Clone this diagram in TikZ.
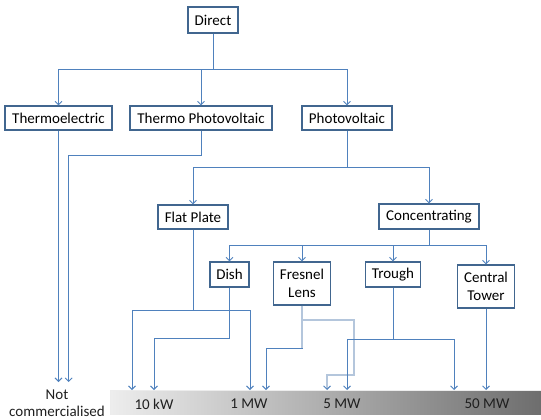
\documentclass[tikz,border=0pt]{standalone}
\usepackage{fontspec}
\setmainfont{Carlito}
\usetikzlibrary{arrows.meta}
\definecolor{linec}{HTML}{4F81BD}
\definecolor{lightc}{HTML}{B4C6DC}
\definecolor{boxc}{HTML}{41668F}
\begin{document}
\begin{tikzpicture}[x=1pt,y=-1pt,
  box/.style={draw=boxc,fill=white,line width=1.1pt,inner sep=0pt,align=center,
    font=\fontsize{15}{18.5}\selectfont},
  conn/.style={draw=linec,line width=0.9pt,-{Straight Barb[length=3.5pt,width=7pt]}},
  plain/.style={draw=linec,line width=0.9pt},
  lightconn/.style={draw=lightc,line width=2pt,-{Straight Barb[length=3.5pt,width=7pt,color=linec,line width=0.9pt]}},
  lbl/.style={font=\fontsize{15}{16.5}\selectfont,text=black!88,align=center,inner sep=0pt}]
\useasboundingbox (0,0) rectangle (541,420);
% bar
\shade[left color=black!7,middle color=black!24,right color=black!57] (110,390) rectangle (541,414);
\draw[white!85!gray,line width=0.8pt] (110,414) -- (110,390) -- (541,390);
\node[lbl] (kw) at (154,404) {10 kW};
\node[lbl] (m1) at (249,404) {1 MW};
\node[lbl] (m5) at (342,404) {5 MW};
\node[lbl] (m50) at (487,404) {50 MW};
\node[lbl] (nc) at (57,403) {Not\\commercialised};
% boxes
\node[box,minimum width=50pt,minimum height=26pt] (direct) at (213,20) {Direct};
\node[box,minimum width=107pt,minimum height=24pt] (te) at (58.5,118) {Thermoelectric};
\node[box,minimum width=142pt,minimum height=24pt] (tpv) at (201,118) {Thermo Photovoltaic};
\node[box,minimum width=90pt,minimum height=24pt] (pv) at (347,118) {Photovoltaic};
\node[box,minimum width=70pt,minimum height=24pt] (flat) at (193,217) {Flat Plate};
\node[box,minimum width=100pt,minimum height=25pt] (conc) at (429,216.5) {Concentrating};
\node[box,minimum width=39pt,minimum height=25pt] (dish) at (229.5,274.5) {Dish};
\node[box,minimum width=57pt,minimum height=43pt] (fres) at (302,283.5) {Fresnel\\Lens};
\node[box,minimum width=55pt,minimum height=25pt] (trough) at (393,274.5) {Trough};
\node[box,minimum width=57pt,minimum height=43pt] (tower) at (486,286.5) {Central\\Tower};
% junctions and ends
\coordinate (j1) at (213,69);
\coordinate (j2) at (347,167);
\coordinate (j3) at (429,245);
\coordinate (k1) at (201,155);
\coordinate (t1) at (58.5,382);
\coordinate (t2) at (68.7,382);
\coordinate (j4) at (193,310);
\coordinate (j5) at (229.5,338);
\coordinate (j6) at (302,348);
\coordinate (j7) at (302,320);
\coordinate (j8) at (354,375);
\coordinate (j9) at (393,339);
\coordinate (kw1) at (132,390);
\coordinate (kw2) at (154,390);
\coordinate (mw1) at (250,390);
\coordinate (mw2) at (266,390);
\coordinate (f5) at (327,390);
\coordinate (t5) at (347,390);
\coordinate (t50) at (454,390);
\coordinate (c50) at (486,390);
% connectors
\draw[plain] (direct.south) -- (j1);
\draw[conn] (j1) -| (te.north);
\draw[conn] (j1) -| (tpv.north);
\draw[conn] (j1) -| (pv.north);
\draw[conn] (te.south) -- (t1);
\draw[conn] (tpv.south) -- (k1) -| (t2);
\draw[plain] (pv.south) -- (j2);
\draw[conn] (j2) -| (flat.north);
\draw[conn] (j2) -| (conc.north);
\draw[plain] (conc.south) -- (j3);
\draw[conn] (j3) -| (dish.north);
\draw[conn] (j3) -| (fres.north);
\draw[conn] (j3) -| (trough.north);
\draw[conn] (j3) -| (tower.north);
\draw[plain] (flat.south) -- (j4);
\draw[conn] (j4) -| (kw1);
\draw[conn] (j4) -| (mw1);
\draw[conn] (dish.south) -- (j5) -| (kw2);
\draw[conn] (fres.south) -- (j6) -| (mw2);
\draw[lightconn] (fres.south) -- (j7) -| (j8) -| (f5);
\draw[draw=lightc,line width=2pt] (j7) -- (j6);
\draw[plain] (trough.south) -- (j9);
\draw[conn] (j9) -| (t5);
\draw[conn] (j9) -| (t50);
\draw[conn] (tower.south) -- (c50);
\end{tikzpicture}
\end{document}
